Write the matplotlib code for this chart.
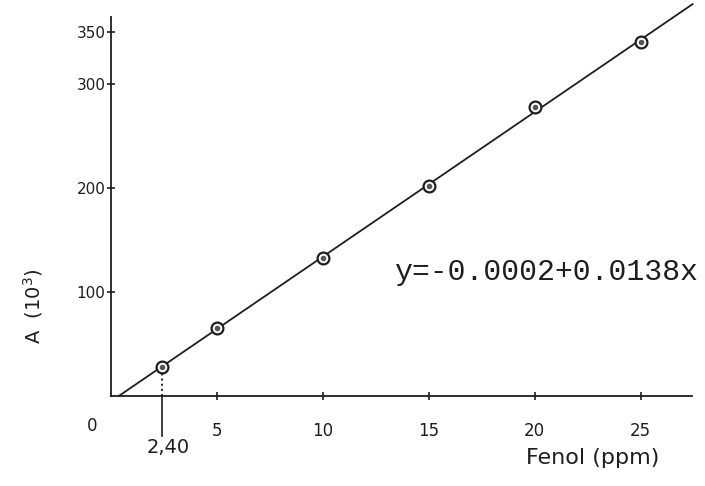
import numpy as np
import matplotlib.pyplot as plt

# calibration points
fenol = [2.4, 5, 10, 15, 20, 25]          # ppm
absorb = [28, 65, 133, 202, 278, 340]     # A (10^3)
ytick_vals = [100, 200, 300, 350]
xtick_vals = [5, 10, 15, 20, 25]
equation = "y=-0.0002+0.0138x"

ink = "#1e1e1e"

fig = plt.figure(figsize=(7.05, 4.86), dpi=100)
ax = fig.add_axes([0.1574, 0.1852, 0.8355, 0.8025])
ax.set_xlim(0, 27.8)
ax.set_ylim(0, 375)

# fitted line through the points
slope, icpt = np.polyfit(fenol, absorb, 1)
x0 = -icpt / slope
xs = np.array([x0, 27.45])
ax.plot(xs, icpt + slope * xs, color=ink, lw=1.3, clip_on=False)
ax.plot(fenol, absorb, "o", ms=8.5, mfc="white", mec=ink, mew=1.6, clip_on=False)
ax.plot(fenol, absorb, "o", ms=3, color="#555555", clip_on=False)

# axes look
for s in ["top", "right"]:
    ax.spines[s].set_visible(False)
ax.spines["left"].set_bounds(0, 364)
ax.spines["bottom"].set_bounds(0, 27.4)
for s in ["left", "bottom"]:
    ax.spines[s].set_color(ink)
    ax.spines[s].set_linewidth(1.3)

ax.set_yticks(ytick_vals)
ax.set_yticklabels([str(v) for v in ytick_vals], fontsize=11, color=ink)
ax.set_xticks(xtick_vals)
ax.set_xticklabels([str(v) for v in xtick_vals], fontsize=12, color=ink)
ax.tick_params(axis="y", direction="inout", length=6, width=1.2, pad=1, colors=ink)
ax.tick_params(axis="x", direction="inout", length=6, width=1.2, pad=16, colors=ink)

# origin label and 2,40 marker
ax.text(-0.9, -29, "0", fontsize=12, color=ink, ha="center", va="center")
ax.plot([fenol[0], fenol[0]], [0, absorb[0] - 5], ls=":", color=ink, lw=1.4)
ax.plot([fenol[0], fenol[0]], [0, -38], color=ink, lw=1.2, clip_on=False)
ax.text(fenol[0] + 0.3, -50, "2,40", fontsize=14, color=ink, ha="center", va="center")

ax.text(25.9, -60, "Fenol (ppm)", fontsize=16, color=ink, ha="right", va="center")
fig.text(0.047, 0.37, "A  (10$^3$)", fontsize=14, color=ink, rotation=90,
         ha="center", va="center")

ax.text(13.4, 119, equation, fontsize=21.5, family="Liberation Mono", color=ink,
        ha="left", va="center")

fig.savefig("out.png", dpi=100, facecolor="white")
